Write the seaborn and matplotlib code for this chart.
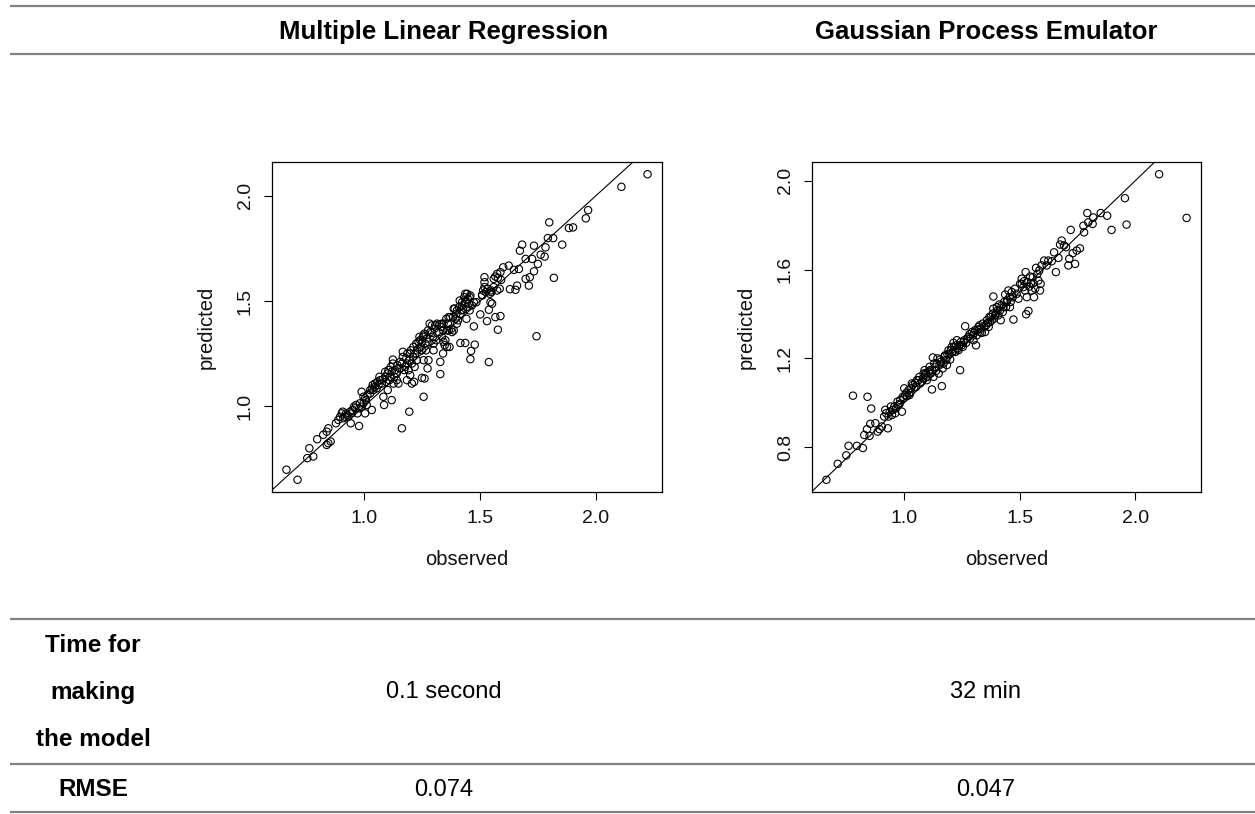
import matplotlib
matplotlib.use("Agg")
import matplotlib.pyplot as plt
from matplotlib.lines import Line2D
import seaborn as sns
import pandas as pd

# ---- Multiple linear regression: observed vs predicted ----
mlr_observed = [
    0.663, 0.711, 0.753, 0.779, 0.762, 0.796, 0.822, 0.837, 0.844, 0.844,
    0.854, 0.837, 0.877, 0.887, 0.906, 0.916, 0.926, 0.941, 0.945, 0.960,
    0.977, 0.981, 0.996, 0.988, 1.003, 1.010, 1.032, 1.025, 1.036, 1.046,
    1.056, 1.065, 1.082, 1.085, 1.090, 1.101, 1.118, 1.123, 1.111, 1.126,
    1.140, 1.162, 1.166, 1.194, 1.184, 1.198, 1.205, 1.215, 1.227, 1.249,
    1.260, 1.256, 1.256, 1.277, 1.273, 1.249, 1.234, 1.256, 1.282, 1.292,
    1.299, 1.328, 1.328, 1.340, 1.335, 1.342, 1.357, 1.364, 1.379, 1.386,
    1.400, 1.415, 1.422, 1.436, 1.436, 1.458, 1.461, 1.473, 1.477, 1.455,
    1.441, 1.484, 1.501, 1.509, 1.519, 1.519, 1.538, 1.530, 1.538, 1.545,
    1.549, 1.559, 1.566, 1.577, 1.588, 1.574, 1.588, 1.600, 1.624, 1.629,
    1.646, 1.653, 1.660, 1.668, 1.672, 1.682, 1.697, 1.697, 1.711, 1.715,
    1.725, 1.733, 1.733, 1.744, 1.750, 1.762, 1.779, 1.783, 1.793, 1.799,
    1.819, 1.816, 1.855, 1.884, 1.902, 1.957, 1.967, 2.111, 2.224,
    0.895, 0.902, 0.909, 0.921, 0.931, 0.938, 0.949, 0.955, 0.964, 0.970,
    0.978, 0.988, 0.996, 1.007, 1.003, 1.013, 1.025, 1.032, 1.039, 1.046,
    1.053, 1.061, 1.068, 1.075, 1.079, 1.090, 1.094, 1.100, 1.104, 1.108,
    1.114, 1.118, 1.123, 1.129, 1.133, 1.140, 1.143, 1.147, 1.152, 1.155,
    1.162, 1.166, 1.172, 1.176, 1.181, 1.184, 1.186, 1.191, 1.195, 1.198,
    1.201, 1.205, 1.210, 1.212, 1.217, 1.220, 1.224, 1.227, 1.234, 1.238,
    1.241, 1.244, 1.249, 1.253, 1.259, 1.263, 1.266, 1.270, 1.275, 1.277,
    1.285, 1.292, 1.296, 1.299, 1.302, 1.306, 1.311, 1.314, 1.321, 1.325,
    1.331, 1.335, 1.340, 1.342, 1.347, 1.350, 1.354, 1.357, 1.361, 1.364,
    1.368, 1.371, 1.376, 1.383, 1.386, 1.390, 1.393, 1.397, 1.400, 1.405,
    1.409, 1.412, 1.415, 1.419, 1.423, 1.426, 1.432, 1.436, 1.441, 1.444,
    1.447, 1.451, 1.455, 1.458, 1.465, 1.473, 1.509, 1.513, 1.519, 1.525,
    1.533, 1.542, 1.548, 1.552, 1.559, 1.566, 1.574, 1.577, 1.585, 1.591,
]
mlr_predicted = [
    0.697, 0.649, 0.752, 0.760, 0.799, 0.842, 0.863, 0.878, 0.894, 0.823,
    0.831, 0.815, 0.918, 0.934, 0.973, 0.949, 0.957, 0.918, 0.965, 0.989,
    0.905, 1.013, 1.044, 1.068, 0.965, 1.005, 0.981, 1.076, 1.100, 1.092,
    1.115, 1.139, 1.044, 1.005, 1.163, 1.076, 1.028, 1.221, 1.139, 1.107,
    1.123, 0.894, 1.258, 0.973, 1.202, 1.250, 1.107, 1.115, 1.218, 1.134,
    1.131, 1.044, 1.218, 1.218, 1.179, 1.265, 1.305, 1.336, 1.392, 1.348,
    1.265, 1.210, 1.152, 1.250, 1.392, 1.305, 1.281, 1.423, 1.352, 1.463,
    1.392, 1.300, 1.494, 1.534, 1.300, 1.223, 1.262, 1.379, 1.292, 1.518,
    1.415, 1.494, 1.436, 1.529, 1.613, 1.589, 1.209, 1.404, 1.458, 1.494,
    1.542, 1.566, 1.423, 1.363, 1.428, 1.629, 1.637, 1.660, 1.668, 1.556,
    1.648, 1.553, 1.573, 1.652, 1.739, 1.768, 1.605, 1.700, 1.573, 1.613,
    1.700, 1.763, 1.641, 1.332, 1.676, 1.720, 1.711, 1.755, 1.799, 1.874,
    1.610, 1.799, 1.768, 1.847, 1.850, 1.893, 1.932, 2.043, 2.103,
    0.949, 0.965, 0.942, 0.965, 0.949, 0.973, 0.981, 0.997, 1.005, 0.965,
    0.989, 0.997, 1.013, 1.028, 1.036, 1.052, 1.060, 1.084, 1.076, 1.107,
    1.084, 1.100, 1.123, 1.107, 1.126, 1.139, 1.115, 1.155, 1.171, 1.123,
    1.186, 1.163, 1.202, 1.139, 1.171, 1.155, 1.194, 1.107, 1.179, 1.210,
    1.202, 1.234, 1.171, 1.186, 1.226, 1.123, 1.250, 1.171, 1.218, 1.147,
    1.265, 1.202, 1.234, 1.281, 1.186, 1.250, 1.297, 1.265, 1.273, 1.329,
    1.313, 1.281, 1.305, 1.329, 1.344, 1.297, 1.265, 1.321, 1.360, 1.305,
    1.352, 1.384, 1.329, 1.297, 1.368, 1.384, 1.313, 1.392, 1.352, 1.389,
    1.376, 1.329, 1.360, 1.392, 1.289, 1.313, 1.415, 1.360, 1.392, 1.360,
    1.281, 1.423, 1.368, 1.423, 1.360, 1.463, 1.415, 1.439, 1.455, 1.408,
    1.471, 1.502, 1.439, 1.455, 1.479, 1.458, 1.518, 1.494, 1.471, 1.534,
    1.510, 1.487, 1.455, 1.526, 1.479, 1.494, 1.526, 1.550, 1.566, 1.542,
    1.558, 1.534, 1.550, 1.487, 1.605, 1.616, 1.550, 1.610, 1.558, 1.600,
]

# ---- Gaussian process emulator: observed vs predicted ----
gpe_observed = [
    0.663, 0.712, 0.749, 0.759, 0.778, 0.795, 0.821, 0.841, 0.857, 0.827,
    0.839, 0.853, 0.850, 0.875, 0.885, 0.893, 0.903, 0.918, 0.929, 0.932,
    0.942, 0.947, 0.961, 0.971, 0.980, 0.990, 1.000, 0.997, 1.012, 1.026,
    1.033, 1.043, 1.055, 1.069, 1.081, 1.091, 1.098, 1.105, 1.112, 1.120,
    1.124, 1.127, 1.134, 1.141, 1.149, 1.156, 1.163, 1.167, 1.177, 1.185,
    1.192, 1.199, 1.206, 1.213, 1.221, 1.228, 1.235, 1.242, 1.249, 1.257,
    1.264, 1.271, 1.283, 1.293, 1.300, 1.311, 1.322, 1.329, 1.340, 1.350,
    1.358, 1.369, 1.379, 1.386, 1.394, 1.404, 1.412, 1.418, 1.386, 1.430,
    1.437, 1.444, 1.451, 1.458, 1.473, 1.480, 1.495, 1.502, 1.509, 1.516,
    1.526, 1.531, 1.528, 1.538, 1.545, 1.552, 1.559, 1.571, 1.581, 1.588,
    1.562, 1.595, 1.606, 1.617, 1.624, 1.639, 1.649, 1.657, 1.668, 1.675,
    1.682, 1.692, 1.701, 1.711, 1.715, 1.721, 1.730, 1.740, 1.747, 1.761,
    1.776, 1.779, 1.793, 1.797, 1.816, 1.819, 1.851, 1.879, 1.898, 1.956,
    1.963, 2.104, 2.223,
    0.913, 0.922, 0.937, 0.951, 0.957, 0.965, 0.975, 0.983, 0.994, 1.004,
    1.009, 1.019, 1.023, 1.029, 1.037, 1.048, 1.052, 1.062, 1.066, 1.076,
    1.084, 1.088, 1.095, 1.102, 1.110, 1.115, 1.121, 1.130, 1.138, 1.144,
    1.153, 1.159, 1.170, 1.173, 1.182, 1.187, 1.196, 1.202, 1.210, 1.216,
    1.225, 1.231, 1.239, 1.245, 1.254, 1.260, 1.268, 1.278, 1.285, 1.297,
    1.303, 1.307, 1.314, 1.317, 1.326, 1.332, 1.336, 1.346, 1.355, 1.362,
    1.366, 1.372, 1.375, 1.384, 1.389, 1.398, 1.401, 1.408, 1.415, 1.422,
    1.427, 1.433, 1.441, 1.447, 1.456, 1.461, 1.466, 1.470, 1.487, 1.509,
    1.519, 1.523, 1.533, 1.542, 1.548, 1.557, 1.567, 1.577, 1.585, 1.591,
]
gpe_predicted = [
    0.653, 0.725, 0.763, 0.806, 1.032, 0.806, 0.796, 1.027, 0.974, 0.855,
    0.881, 0.905, 0.851, 0.908, 0.870, 0.881, 0.893, 0.968, 0.885, 0.938,
    0.983, 0.945, 0.953, 1.005, 0.995, 0.960, 1.065, 1.020, 1.030, 1.045,
    1.087, 1.069, 1.102, 1.087, 1.110, 1.125, 1.102, 1.140, 1.147, 1.060,
    1.204, 1.117, 1.162, 1.177, 1.132, 1.195, 1.075, 1.155, 1.214, 1.170,
    1.237, 1.195, 1.252, 1.270, 1.229, 1.282, 1.237, 1.147, 1.259, 1.274,
    1.345, 1.289, 1.309, 1.319, 1.282, 1.259, 1.342, 1.319, 1.357, 1.319,
    1.372, 1.387, 1.372, 1.424, 1.394, 1.416, 1.443, 1.372, 1.479, 1.431,
    1.488, 1.454, 1.506, 1.431, 1.375, 1.514, 1.469, 1.536, 1.559, 1.521,
    1.589, 1.476, 1.399, 1.414, 1.569, 1.506, 1.539, 1.608, 1.551, 1.506,
    1.476, 1.619, 1.641, 1.619, 1.641, 1.638, 1.678, 1.589, 1.653, 1.713,
    1.731, 1.709, 1.701, 1.619, 1.649, 1.779, 1.674, 1.626, 1.686, 1.696,
    1.798, 1.768, 1.855, 1.813, 1.806, 1.835, 1.855, 1.843, 1.779, 1.922,
    1.803, 2.030, 1.833,
    0.938, 0.953, 0.960, 0.968, 0.983, 0.975, 0.990, 1.012, 1.027, 1.035,
    1.045, 1.057, 1.035, 1.065, 1.080, 1.090, 1.072, 1.102, 1.117, 1.095,
    1.132, 1.147, 1.135, 1.117, 1.162, 1.132, 1.147, 1.177, 1.144, 1.200,
    1.170, 1.185, 1.177, 1.207, 1.192, 1.219, 1.219, 1.237, 1.229, 1.252,
    1.259, 1.244, 1.259, 1.274, 1.252, 1.282, 1.270, 1.297, 1.289, 1.304,
    1.315, 1.327, 1.304, 1.330, 1.349, 1.334, 1.315, 1.342, 1.349, 1.360,
    1.342, 1.364, 1.387, 1.402, 1.379, 1.405, 1.431, 1.394, 1.416, 1.439,
    1.409, 1.454, 1.431, 1.464, 1.476, 1.454, 1.499, 1.476, 1.491, 1.536,
    1.548, 1.506, 1.544, 1.524, 1.539, 1.566, 1.514, 1.581, 1.596, 1.536,
]

# ---- Table text ----
model_names = ["Multiple Linear Regression", "Gaussian Process Emulator"]
time_row_label = ["Time for", "making", "the model"]
fit_times = ["0.1 second", "32 min"]
rmse_label = "RMSE"
rmse_values = ["0.074", "0.047"]

# ---- Axis ticks ----
x_ticks = [1.0, 1.5, 2.0]
mlr_y_ticks = [1.0, 1.5, 2.0]
gpe_y_ticks = [0.8, 1.2, 1.6, 2.0]

sns.set_theme(style="white")
plt.rcParams["font.family"] = ["Liberation Sans", "DejaVu Sans"]

W, H = 1255, 814
fig = plt.figure(figsize=(W / 100, H / 100), dpi=100)
fig.patch.set_facecolor("white")


def px_rect(x0, y0, x1, y1):
    """Axes rectangle from pixel corners (origin top-left)."""
    return [x0 / W, 1 - y1 / H, (x1 - x0) / W, (y1 - y0) / H]


def fx(x):
    return x / W


def fy(y):
    return 1 - y / H


def padded(values):
    lo, hi = min(values), max(values)
    pad = 0.04 * (hi - lo)
    return lo - pad, hi + pad


panels = [
    (mlr_observed, mlr_predicted, mlr_y_ticks, px_rect(272, 162, 662, 492)),
    (gpe_observed, gpe_predicted, gpe_y_ticks, px_rect(812, 162, 1201, 492)),
]

for obs, pred, y_ticks, rect in panels:
    ax = fig.add_axes(rect)
    df = pd.DataFrame({"observed": obs, "predicted": pred})
    sns.scatterplot(
        data=df, x="observed", y="predicted", ax=ax, marker="o", s=28,
        facecolor="none", edgecolor="black", linewidth=0.8, legend=False,
    )
    ax.set_xlim(*padded(obs))
    ax.set_ylim(*padded(pred))
    ax.axline((1.0, 1.0), slope=1.0, color="black", lw=0.8, zorder=1)

    for sp in ax.spines.values():
        sp.set_color("black")
        sp.set_linewidth(0.9)
    ax.set_xticks(x_ticks)
    ax.set_xticklabels([f"{v:.1f}" for v in x_ticks])
    ax.set_yticks(y_ticks)
    ax.set_yticklabels([f"{v:.1f}" for v in y_ticks], rotation=90, va="center")
    ax.tick_params(axis="both", which="major", bottom=True, left=True,
                   direction="out", length=6, width=0.8, color="black",
                   labelsize=14, labelcolor="#111111", pad=7)

    ax.set_xlabel("observed", fontsize=14.5, color="#111111")
    ax.set_ylabel("predicted", fontsize=14.5, color="#111111")
    ax.xaxis.set_label_coords(0.5, -0.206)
    ax.xaxis.label.set_va("center")
    ax.yaxis.set_label_coords(-0.169, 0.5)
    ax.yaxis.label.set_va("center")

# ---- Table rules ----
rule_color = "#808080"
for y in [6, 54, 619, 764, 812]:
    fig.add_artist(Line2D([fx(10), 1.0], [fy(y), fy(y)], color=rule_color,
                          lw=1.6, solid_capstyle="butt"))

col_centers = [444, 986]
label_center = 93
header_fs = 18.5
body_fs = 17

for name, cx in zip(model_names, col_centers):
    fig.text(fx(cx), fy(32), name, ha="center", va="center",
             fontsize=header_fs, fontweight="bold", color="black")

for line, y in zip(time_row_label, [645, 692, 740]):
    fig.text(fx(label_center), fy(y), line, ha="center", va="center",
             fontsize=body_fs + 0.5, fontweight="bold", color="black")
for val, cx in zip(fit_times, col_centers):
    fig.text(fx(cx), fy(692), val, ha="center", va="center",
             fontsize=body_fs, color="black")

fig.text(fx(label_center), fy(790), rmse_label, ha="center", va="center",
         fontsize=body_fs + 0.5, fontweight="bold", color="black")
for val, cx in zip(rmse_values, col_centers):
    fig.text(fx(cx), fy(790), val, ha="center", va="center",
             fontsize=body_fs, color="black")

fig.savefig("out.png", dpi=100, facecolor="white")
